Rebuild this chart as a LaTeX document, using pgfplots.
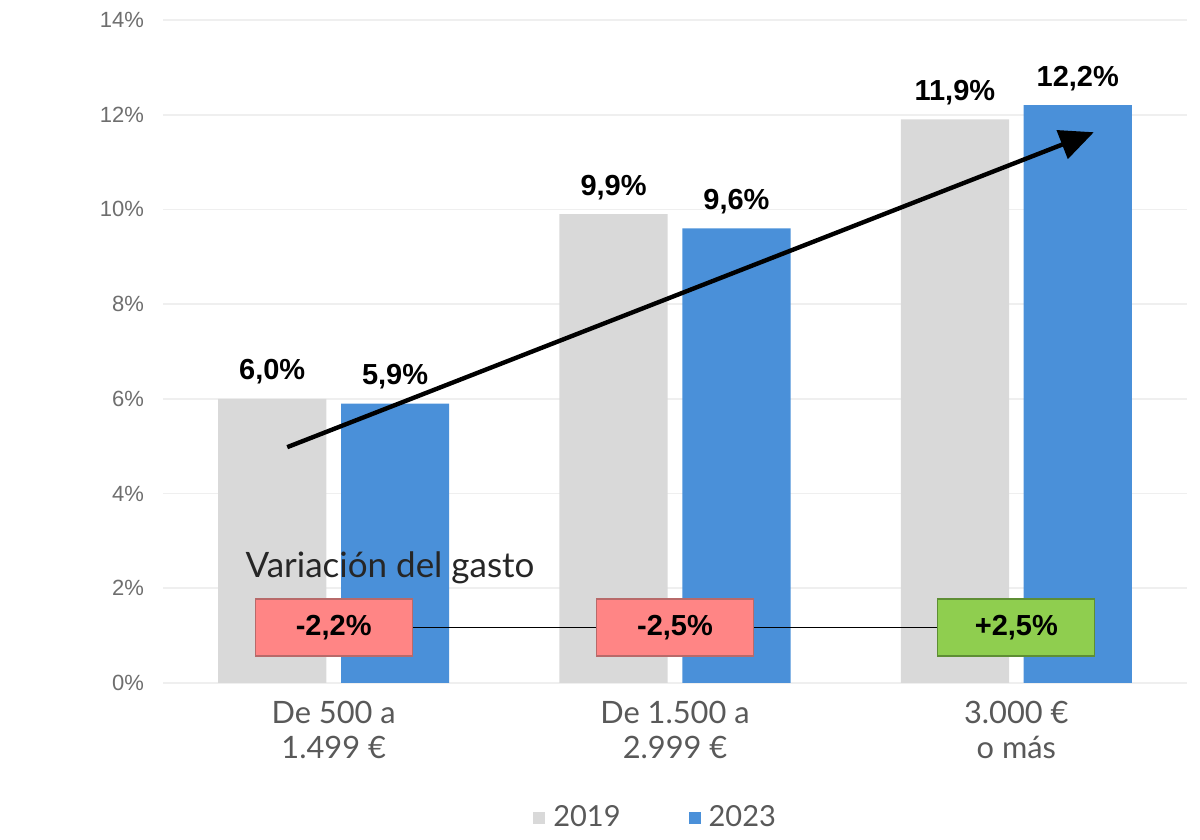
\documentclass[border=0pt]{standalone}
\usepackage{pgfplots}
\pgfplotsset{compat=1.18}
\usepackage{fontspec}
\setmainfont{Liberation Sans}
\newfontfamily\catfont{Lato}
\usetikzlibrary{arrows.meta}
\definecolor{gbar}{HTML}{D9D9D9}
\definecolor{bbar}{HTML}{4A90D9}
\definecolor{pinkbox}{HTML}{FF8585}
\definecolor{pinkedge}{HTML}{B86A6A}
\definecolor{greenbox}{HTML}{8FCE4F}
\definecolor{greenedge}{HTML}{5E8E34}
\definecolor{ticktxt}{HTML}{6E6E6E}
\definecolor{cattxt}{HTML}{595959}
\definecolor{gridc}{HTML}{EFEFEF}
\begin{document}
\begin{tikzpicture}
\useasboundingbox (0,0) rectangle (600pt,420pt);
\begin{axis}[
  at={(81.5pt,78.5pt)}, anchor=south west,
  scale only axis, width=512pt, height=331.5pt,
  xmin=-0.5, xmax=2.5, ymin=0, ymax=14,
  ybar, bar width=0.317,
  xtick={0,1,2},
  xticklabels={{De 500 a\\1.499 €},{De 1.500 a\\2.999 €},{3.000 €\\o más}},
  xticklabel style={align=center, font=\catfont\fontsize{15.4}{17.5}\selectfont, text=cattxt, yshift=-1.5pt},
  ytick={0,2,...,14},
  yticklabel={\pgfmathprintnumber{\tick}\%},
  yticklabel style={font=\fontsize{11}{12}\selectfont, text=ticktxt, xshift=-6pt},
  /pgf/number format/assume math mode=true,
  ymajorgrids, grid style={gridc, line width=0.9pt},
  axis line style={draw=none}, tick style={draw=none},
  clip=false,
  nodes near coords={\pgfmathprintnumber[fixed,fixed zerofill,precision=1,use comma]{\pgfplotspointmeta}\%},
  every node near coord/.append style={font=\bfseries\fontsize{14.5}{16}\selectfont, text=black, anchor=center, yshift=13.5pt},
  legend style={at={(0.484,-0.2036)}, anchor=center, draw=none, fill=none,
    legend columns=2, font=\catfont\fontsize{14.5}{16}\selectfont, text=cattxt,
    /tikz/every even column/.append style={column sep=30pt}},
  legend image code/.code={\fill[#1] (0pt,-3pt) rectangle (6pt,3pt);},
  legend cell align=left,
  legend style={nodes={inner xsep=4pt}},
]
\addplot[fill=gbar, draw=none, bar shift=-0.18] coordinates {(0,6.0) (1,9.9) (2,11.9)};
\addlegendentry{2019}
\addplot[fill=bbar, draw=none, bar shift=0.18] coordinates {(0,5.9) (1,9.6) (2,12.2)};
\addlegendentry{2023}
\draw[black, line width=0.6pt] (axis cs:0,1.17) -- (axis cs:2,1.17);
\node[fill=pinkbox, draw=pinkedge, line width=0.6pt, minimum width=78.5pt, minimum height=28.5pt, font=\bfseries\fontsize{14.5}{16}\selectfont] at (axis cs:0,1.17) {-2,2\%};
\node[fill=pinkbox, draw=pinkedge, line width=0.6pt, minimum width=78.5pt, minimum height=28.5pt, font=\bfseries\fontsize{14.5}{16}\selectfont] at (axis cs:1,1.17) {-2,5\%};
\node[fill=greenbox, draw=greenedge, line width=0.6pt, minimum width=78.5pt, minimum height=28.5pt, font=\bfseries\fontsize{14.5}{16}\selectfont] at (axis cs:2,1.17) {+2,5\%};
\node[anchor=west, inner sep=0pt, font=\catfont\fontsize{17.5}{19}\selectfont, text=black!85] at (axis cs:-0.259,2.43) {Variación del gasto};
\draw[line width=2.2pt, -{Triangle[length=17pt,width=15pt]}] (axis cs:-0.136,4.98) -- (axis cs:2.227,11.63);
\end{axis}
\end{tikzpicture}
\end{document}
